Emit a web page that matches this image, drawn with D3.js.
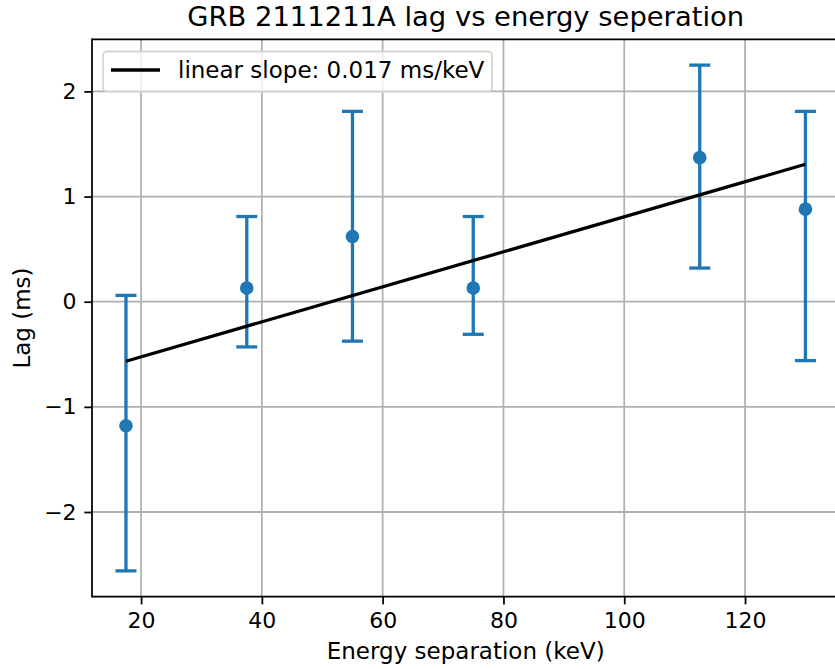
<!DOCTYPE html>
<html>
<head>
<meta charset="utf-8">
<script src="https://cdn.jsdelivr.net/npm/d3@7"></script>
<style>
  body { margin: 0; background: #fff; }
  svg { display: block; font-family: "DejaVu Sans", sans-serif; }
</style>
</head>
<body>
<div id="chart"></div>
<script>
// values
const energySep = [17.5, 37.5, 55, 75, 112.5, 130]
const lag = [-1.18, 0.13, 0.62, 0.13, 1.37, 0.88]
const lagLow = [-2.56, -0.43, -0.375, -0.31, 0.32, -0.56]
const lagHigh = [0.06, 0.81, 1.81, 0.81, 2.25, 1.81]

const fitX = [17.5, 130]
const fitY = [-0.566, 1.307]

const xTicks = [20, 40, 60, 80, 100, 120]
const yTicks = [-2, -1, 0, 1, 2]

const svgWidth = 835
const svgHeight = 669

let margin = { top: 39.3, left: 92, bottom: 669 - 596.7 }
let plotRight = 839.4

let svg = d3.select("#chart")
  .append("svg")
  .attr("width", svgWidth)
  .attr("height", svgHeight)

let x = d3.scaleLinear()
  .domain([11.875, 135.625])
  .range([margin.left, plotRight])

let y = d3.scaleLinear()
  .domain([-2.8055, 2.4955])
  .range([svgHeight - margin.bottom, margin.top])

const blue = "#1f77b4"
const lw = 1.76      // 0.8pt
const tickLen = 7.7  // 3.5pt
const fontSize = "22px"
const labelSize = "23px"

// grid
let grid = svg.append("g")
grid.selectAll("line.gx")
  .data(xTicks)
  .enter()
  .append("line")
  .attr("x1", d => x(d)).attr("x2", d => x(d))
  .attr("y1", y.range()[0]).attr("y2", y.range()[1])
  .attr("stroke", "#b0b0b0").attr("stroke-width", lw)
grid.selectAll("line.gy")
  .data(yTicks)
  .enter()
  .append("line")
  .attr("x1", margin.left).attr("x2", plotRight)
  .attr("y1", d => y(d)).attr("y2", d => y(d))
  .attr("stroke", "#b0b0b0").attr("stroke-width", lw)

// error bars
let pts = energySep.map((e, i) => ({ x: e, y: lag[i], lo: lagLow[i], hi: lagHigh[i] }))
let bars = svg.append("g")
  .attr("stroke", blue)
  .attr("stroke-width", 3.3)
bars.selectAll("line.stem")
  .data(pts)
  .enter()
  .append("line")
  .attr("x1", d => x(d.x)).attr("x2", d => x(d.x))
  .attr("y1", d => y(d.lo)).attr("y2", d => y(d.hi))
const cap = 10.5
bars.selectAll("line.caplo")
  .data(pts)
  .enter()
  .append("line")
  .attr("x1", d => x(d.x) - cap).attr("x2", d => x(d.x) + cap)
  .attr("y1", d => y(d.lo)).attr("y2", d => y(d.lo))
bars.selectAll("line.caphi")
  .data(pts)
  .enter()
  .append("line")
  .attr("x1", d => x(d.x) - cap).attr("x2", d => x(d.x) + cap)
  .attr("y1", d => y(d.hi)).attr("y2", d => y(d.hi))

svg.append("g")
  .selectAll("circle")
  .data(pts)
  .enter()
  .append("circle")
  .attr("cx", d => x(d.x))
  .attr("cy", d => y(d.y))
  .attr("r", 6.8)
  .attr("fill", blue)

// fit line
svg.append("path")
  .datum(fitX.map((v, i) => [v, fitY[i]]))
  .attr("fill", "none")
  .attr("stroke", "#000")
  .attr("stroke-width", 3.3)
  .attr("d", d3.line().x(d => x(d[0])).y(d => y(d[1])))

// axes
let xAxis = svg.append("g")
  .attr("transform", `translate(0, ${y.range()[0]})`)
  .call(d3.axisBottom(x).tickValues(xTicks).tickFormat(d3.format("")).tickSize(tickLen).tickPadding(tickLen))
let yAxis = svg.append("g")
  .attr("transform", `translate(${margin.left}, 0)`)
  .call(d3.axisLeft(y).tickValues(yTicks).tickFormat(d3.format("")).tickSize(tickLen).tickPadding(tickLen))

for (let ax of [xAxis, yAxis]) {
  ax.select(".domain").remove()
  ax.selectAll(".tick line").attr("stroke", "#000").attr("stroke-width", lw)
  ax.selectAll(".tick text")
    .attr("fill", "#000")
    .attr("font-size", fontSize)
    .attr("font-family", "DejaVu Sans")
}

// spines
svg.append("line")
  .attr("x1", margin.left).attr("x2", margin.left)
  .attr("y1", y.range()[0] + lw / 2).attr("y2", y.range()[1] - lw / 2)
  .attr("stroke", "#000").attr("stroke-width", lw)
svg.append("line")
  .attr("x1", margin.left).attr("x2", plotRight)
  .attr("y1", y.range()[0]).attr("y2", y.range()[0])
  .attr("stroke", "#000").attr("stroke-width", lw)
svg.append("line")
  .attr("x1", margin.left).attr("x2", plotRight)
  .attr("y1", y.range()[1]).attr("y2", y.range()[1])
  .attr("stroke", "#000").attr("stroke-width", lw)

// labels
let midX = (margin.left + plotRight) / 2
svg.append("text")
  .attr("x", midX).attr("y", 26)
  .attr("text-anchor", "middle")
  .attr("font-size", "27.4px")
  .text("GRB 2111211A lag vs energy seperation")

svg.append("text")
  .attr("x", midX).attr("y", 659)
  .attr("text-anchor", "middle")
  .attr("font-size", labelSize)
  .text("Energy separation (keV)")

svg.append("text")
  .attr("transform", `translate(30, ${(y.range()[0] + y.range()[1]) / 2}) rotate(-90)`)
  .attr("text-anchor", "middle")
  .attr("font-size", labelSize)
  .text("Lag (ms)")

// legend
let legend = svg.append("g")
legend.append("rect")
  .attr("x", 103).attr("y", 51.5)
  .attr("width", 389).attr("height", 40)
  .attr("rx", 4)
  .attr("fill", "#fff").attr("fill-opacity", 0.8)
  .attr("stroke", "#d6d6d6").attr("stroke-width", lw)
legend.append("line")
  .attr("x1", 111).attr("x2", 160)
  .attr("y1", 70).attr("y2", 70)
  .attr("stroke", "#000").attr("stroke-width", 3.3)
legend.append("text")
  .attr("x", 178).attr("y", 78)
  .attr("font-size", labelSize)
  .text("linear slope: 0.017 ms/keV")
</script>
</body>
</html>
